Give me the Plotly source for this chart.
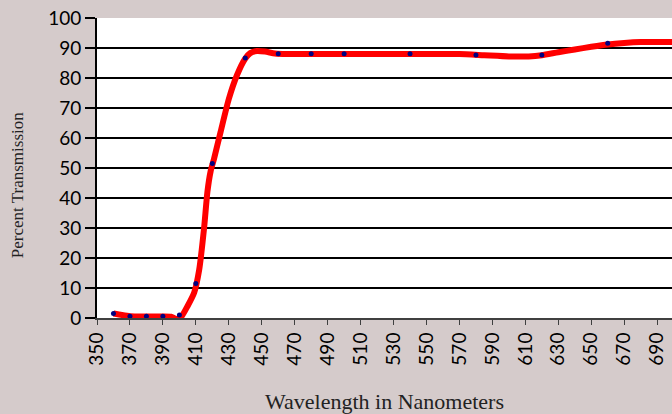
import plotly.graph_objects as go

# Measured points (blue markers)
pt_nm = [360, 370, 380, 390, 400, 410, 420, 440, 460, 480, 500, 540, 580, 620, 660]
pt_pct = [1.5, 0.6, 0.6, 0.6, 1.0, 11.5, 51.5, 86.7, 88.1, 88.1, 88.1, 88.1, 87.7, 87.7, 91.6]

# Smoothed curve (red line)
curve_nm = [360, 365, 370, 380, 390, 395, 398, 401, 405, 409, 412, 415, 417, 419, 421,
            425, 430, 435, 440, 443, 447, 452, 458, 465, 500, 550, 570, 585, 600, 612,
            620, 630, 640, 650, 660, 670, 680, 700]
curve_pct = [1.5, 1.0, 0.6, 0.5, 0.5, 0.4, -0.3, 0.3, 4.0, 8.5, 16, 30, 42, 49, 53,
             62, 73, 81, 86.5, 88.3, 89.0, 88.8, 88.2, 88.0, 88.0, 88.0, 88.0, 87.6, 87.2, 87.2,
             87.6, 88.6, 89.5, 90.4, 91.2, 91.7, 92.0, 92.0]

x_ticks = list(range(350, 700, 20))
y_ticks = list(range(0, 101, 10))

fig = go.Figure()
fig.add_trace(go.Scatter(x=curve_nm, y=curve_pct, mode="lines",
                         line=dict(color="#ff0000", width=6, shape="spline", smoothing=0.6),
                         hoverinfo="skip", showlegend=False))
fig.add_trace(go.Scatter(x=pt_nm, y=pt_pct, mode="markers",
                         marker=dict(color="#000080", size=5),
                         showlegend=False))

fig.update_layout(
    width=672, height=414,
    margin=dict(l=97, r=0, t=18, b=96),
    paper_bgcolor="#d5cbcb",
    plot_bgcolor="#ffffff",
    font=dict(family="Lato", color="#000000"),
    annotations=[dict(
        text="Percent Transmission", textangle=-90,
        xref="paper", yref="paper", x=-0.139, y=0.443,
        xanchor="center", yanchor="middle", showarrow=False,
        font=dict(family="Liberation Serif", size=17, color="#222"),
    )],
)
fig.update_xaxes(
    range=[350, 699], tickvals=x_ticks, ticktext=[str(v) for v in x_ticks],
    tickangle=-90, tickfont=dict(size=19, family="Lato", color="#000"),
    ticks="outside", ticklen=5, tickcolor="#404040", tickwidth=1,
    showline=True, linecolor="#404040", linewidth=2,
    showgrid=False, zeroline=False,
    title=dict(text="Wavelength in Nanometers", standoff=30,
               font=dict(family="Liberation Serif", size=22, color="#222")),
)
fig.update_yaxes(
    range=[0, 100], tickvals=y_ticks,
    tickfont=dict(size=19, family="Lato", color="#000"),
    ticks="outside", ticklen=10, tickcolor="#000", tickwidth=2,
    showline=True, linecolor="#000", linewidth=2,
    showgrid=True, gridcolor="#000", gridwidth=2, zeroline=False,
)

fig.write_html("out.html", config={"displayModeBar": False},
               post_script="document.body.style.margin='0';")
